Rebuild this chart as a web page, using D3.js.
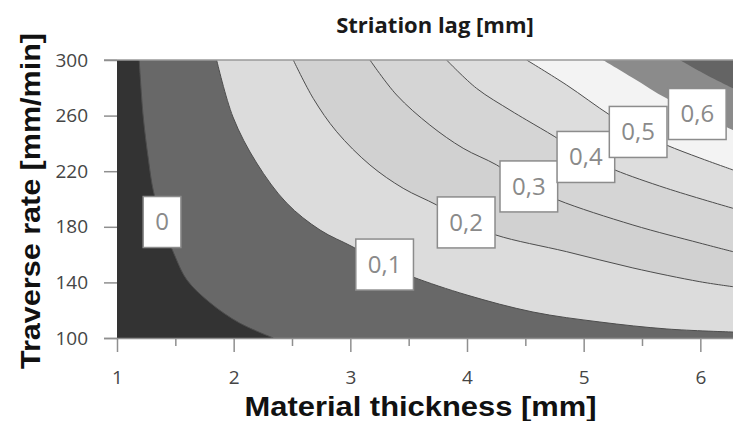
<!DOCTYPE html>
<html>
<head>
<meta charset="utf-8">
<script src="https://cdn.jsdelivr.net/npm/d3@7"></script>
<style>
  body { margin: 0; background: #fff; }
  svg { display: block; }
</style>
</head>
<body>
<div id="chart"></div>
<script>
// contour levels of striation lag [mm]
const levels = [0, 0.1, 0.2, 0.3, 0.4, 0.5, 0.6, 0.7];
const labelLevels = ["0", "0,1", "0,2", "0,3", "0,4", "0,5", "0,6"];

// contour lines: [material thickness mm, traverse rate mm/min]
const line00 = [[1.19, 300], [1.225, 259], [1.27, 228], [1.31, 206.5], [1.386, 183.5], [1.50, 158.3], [1.60, 141.7], [1.80, 125.2], [2.05, 110.8], [2.34, 100]];
const line01 = [[1.854, 300], [1.994, 259], [2.197, 225.9], [2.454, 197.1], [2.74, 177.7], [3.022, 165.5], [3.296, 152.5], [3.536, 143.9], [4.0, 130.9], [4.565, 118.7], [5.139, 111.5], [5.713, 106.5], [6.28, 104.3]];
const line02 = [[2.511, 300], [2.682, 272.4], [2.883, 248.4], [3.168, 224.5], [3.453, 207.7], [3.74, 195.7], [3.99, 183.5], [4.248, 174.1], [4.854, 162.1], [5.422, 150.4], [5.996, 140.5], [6.28, 136.9]];
const line03 = [[3.168, 300], [3.397, 274.8], [3.682, 253.2], [3.967, 236.5], [4.254, 224.5], [4.53, 209.4], [4.779, 199.3], [5.422, 181.3], [5.996, 168.3], [6.28, 162.1]];
const line04 = [[3.825, 300], [4.082, 279.6], [4.368, 264.0], [4.511, 256.8], [4.753, 244.8], [5.019, 230.6], [5.267, 220.9], [5.71, 207.7], [6.28, 193.3]];
const line05 = [[4.511, 300], [4.854, 282.0], [5.225, 260.4], [5.465, 248.6], [5.71, 238.8], [5.996, 229.5], [6.28, 220.9]];
const line06 = [[5.165, 300], [5.422, 287.1], [5.71, 272.4], [5.97, 261.9], [6.28, 249.6]];
const line07 = [[5.824, 300], [6.053, 289.2], [6.28, 279.6]];
const contourLines = [line00, line01, line02, line03, line04, line05, line06, line07];

// where each level label sits
const labelPoints = [[1.386, 183.8], [3.294, 153.2], [3.993, 183.5], [4.53, 209.4], [5.019, 230.6], [5.467, 248.6], [5.974, 261.5]];

const xTicks = [1, 2, 3, 4, 5, 6];
const xMinorTicks = [1.5, 2.5, 3.5, 4.5, 5.5];
const yTicks = [100, 140, 180, 220, 260, 300];

// band fills: below 0, then above each level
const bandColors = ["#333333", "#686868", "#dcdcdc", "#d1d1d1", "#d5d5d5", "#dddddd", "#f3f3f3", "#8b8b8b", "#646464"];

const W = 733, H = 421;
const svg = d3.select("#chart").append("svg")
  .attr("width", W)
  .attr("height", H);

const x = d3.scaleLinear().domain([1, 6.28]).range([117, 733]);
const y = d3.scaleLinear().domain([100, 300]).range([338, 60]);

svg.append("defs").append("clipPath")
  .attr("id", "plotclip")
  .append("rect")
  .attr("x", x.range()[0])
  .attr("y", y.range()[1])
  .attr("width", x.range()[1] - x.range()[0])
  .attr("height", y.range()[0] - y.range()[1]);

const plot = svg.append("g").attr("clip-path", "url(#plotclip)");

plot.append("rect")
  .attr("x", x.range()[0])
  .attr("y", y.range()[1])
  .attr("width", x.range()[1] - x.range()[0])
  .attr("height", y.range()[0] - y.range()[1])
  .attr("fill", bandColors[0]);

const line = d3.line()
  .x(d => x(d[0]))
  .y(d => y(d[1]))
  .curve(d3.curveCatmullRom.alpha(0.5));

// region on the high side of a contour, closed round the top-right corner
function highSide(pts) {
  const xr = x.range()[1] + 5, yt = y.range()[1] - 5, yb = y.range()[0] + 5;
  const last = pts[pts.length - 1];
  let p = line(pts);
  if (last[1] <= y.domain()[0]) p += "L" + x(last[0]) + "," + yb + "L" + xr + "," + yb;
  p += "L" + xr + "," + yt + "L" + x(pts[0][0]) + "," + yt + "Z";
  return p;
}

contourLines.forEach((pts, i) => {
  plot.append("path")
    .attr("d", highSide(pts))
    .attr("fill", bandColors[i + 1]);
});

plot.selectAll(".cline")
  .data(contourLines.slice(0, 6))
  .enter().append("path")
  .attr("class", "cline")
  .attr("d", d => line(d))
  .attr("fill", "none")
  .attr("stroke", "#4d4d4d")
  .attr("stroke-width", 1);

// frame line on top
svg.append("line")
  .attr("x1", 104).attr("x2", x.range()[1])
  .attr("y1", y(300)).attr("y2", y(300))
  .attr("stroke", "#9a9a9a").attr("stroke-width", 1.5);

// axes
const xAxis = svg.append("g")
  .attr("transform", "translate(0," + y.range()[0] + ")")
  .call(d3.axisBottom(x).tickValues(xTicks).tickSize(14).tickSizeOuter(0).tickPadding(19).tickFormat(d3.format("d")));
const xMinor = svg.append("g")
  .attr("transform", "translate(0," + y.range()[0] + ")")
  .call(d3.axisBottom(x).tickValues(xMinorTicks).tickSize(8).tickSizeOuter(0).tickFormat(""));
xMinor.select(".domain").remove();

const yAxis = svg.append("g")
  .attr("transform", "translate(" + x.range()[0] + ",0)")
  .call(d3.axisLeft(y).tickValues(yTicks).tickSize(13).tickSizeOuter(0).tickPadding(16));
yAxis.select(".domain").remove();

svg.selectAll(".tick line, .domain")
  .attr("stroke", "#8f8f8f")
  .attr("stroke-width", 1.5);
xAxis.select(".domain").attr("d", "M104,0.5H" + x.range()[1]);

svg.selectAll(".tick text")
  .attr("font-family", "Open Sans")
  .attr("font-size", 19)
  .attr("fill", "#454545");

// contour labels
const lab = svg.selectAll(".clabel")
  .data(labelPoints)
  .enter().append("g")
  .attr("class", "clabel")
  .attr("transform", d => "translate(" + x(d[0]) + "," + y(d[1]) + ")");

lab.append("rect")
  .attr("fill", "#fff")
  .attr("stroke", "#8c8c8c")
  .attr("stroke-width", 1.5);

lab.append("text")
  .attr("text-anchor", "middle")
  .attr("dy", "0.36em")
  .attr("font-family", "Open Sans")
  .attr("font-size", 24)
  .attr("fill", "#8a8a8a")
  .text((d, i) => labelLevels[i]);

lab.each(function() {
  const g = d3.select(this);
  const w = g.select("text").node().getComputedTextLength() + 24;
  g.select("rect")
    .attr("x", -w / 2).attr("y", -25)
    .attr("width", w).attr("height", 51);
});

// titles
svg.append("text")
  .attr("x", 435)
  .attr("y", 33)
  .attr("text-anchor", "middle")
  .attr("font-family", "Open Sans")
  .attr("font-weight", "bold")
  .attr("font-size", 22)
  .attr("fill", "#1a1a1a")
  .text("Striation lag [mm]");

svg.append("text")
  .attr("x", 420.5)
  .attr("y", 416)
  .attr("text-anchor", "middle")
  .attr("font-family", "Liberation Sans")
  .attr("font-weight", "bold")
  .attr("font-size", 28)
  .attr("textLength", 352)
  .attr("lengthAdjust", "spacingAndGlyphs")
  .attr("fill", "#111")
  .text("Material thickness [mm]");

svg.append("text")
  .attr("transform", "translate(40,201) rotate(-90)")
  .attr("text-anchor", "middle")
  .attr("font-family", "Liberation Sans")
  .attr("font-weight", "bold")
  .attr("font-size", 28)
  .attr("textLength", 336)
  .attr("lengthAdjust", "spacingAndGlyphs")
  .attr("fill", "#111")
  .text("Traverse rate [mm/min]");
</script>
</body>
</html>
